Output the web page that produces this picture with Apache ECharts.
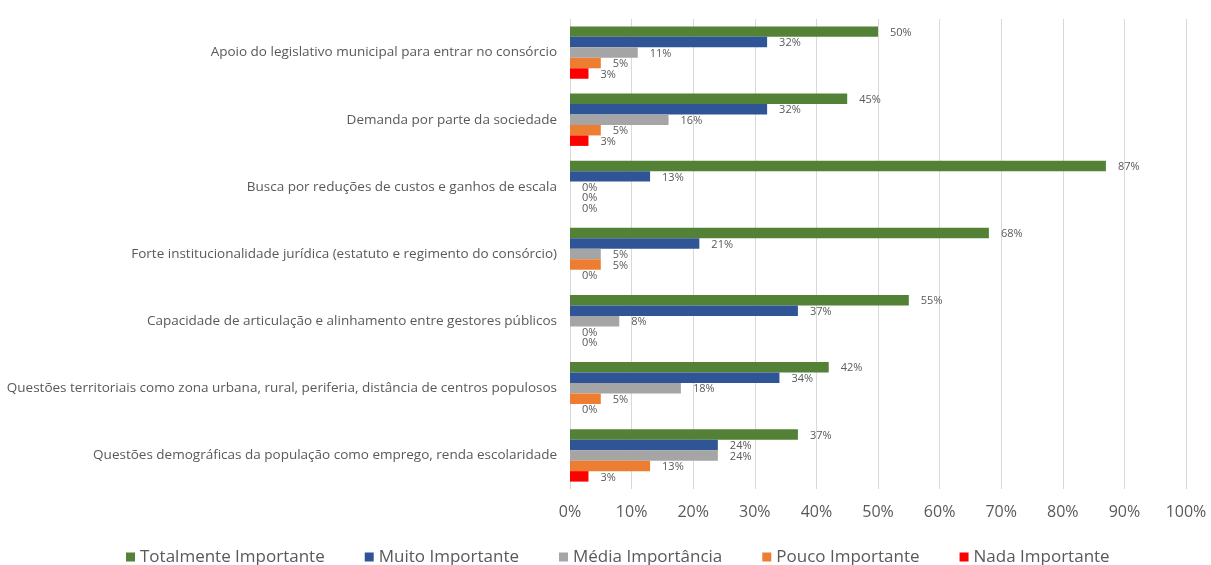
<!DOCTYPE html>
<html>
<head>
<meta charset="utf-8">
<script src="https://cdn.jsdelivr.net/npm/echarts@6/dist/echarts.min.js"></script>
<style>
  html, body { margin: 0; padding: 0; background: #ffffff; }
  #chart { width: 1211px; height: 565px; }
</style>
</head>
<body>
<div id="chart"></div>
<script>
// Factors considered when joining a public consortium, by importance rating (%)
const categories = [
  'Apoio do legislativo municipal para entrar no consórcio',
  'Demanda por parte da sociedade',
  'Busca por reduções de custos e ganhos de escala',
  'Forte institucionalidade jurídica (estatuto e regimento do consórcio)',
  'Capacidade de articulação e alinhamento entre gestores públicos',
  'Questões territoriais como zona urbana, rural, periferia, distância de centros populosos',
  'Questões demográficas da população como emprego, renda escolaridade'
];
const seriesNames = ['Totalmente Importante', 'Muito Importante', 'Média Importância', 'Pouco Importante', 'Nada Importante'];
const totalmente = [50, 45, 87, 68, 55, 42, 37];
const muito      = [32, 32, 13, 21, 37, 34, 24];
const media      = [11, 16, 0, 5, 8, 18, 24];
const pouco      = [5, 5, 0, 5, 0, 5, 13];
const nada       = [3, 3, 0, 0, 0, 0, 3];
const xTicks = [0, 10, 20, 30, 40, 50, 60, 70, 80, 90, 100];

const colors = ['#538135', '#2F5597', '#A5A5A5', '#ED7D31', '#FF0000'];
const values = [totalmente, muito, media, pouco, nada];

const chart = echarts.init(document.getElementById('chart'), null, { renderer: 'canvas' });

const series = values.map((data, i) => ({
  name: seriesNames[i],
  type: 'bar',
  data: data,
  barGap: '0%',
  barCategoryGap: '22%',
  itemStyle: { color: colors[i] },
  label: {
    show: true,
    position: 'right',
    distance: 12,
    offset: [0, 1],
    formatter: p => p.value + '%',
    color: '#595959',
    fontFamily: 'Open Sans',
    fontSize: 11
  }
}));

chart.setOption({
  animation: false,
  backgroundColor: '#ffffff',
  grid: { left: 570, right: 25, top: 19, bottom: 76, containLabel: false, outerBoundsMode: 'none' },
  legend: {
    data: seriesNames,
    top: 547,
    left: 126,
    padding: 0,
    itemWidth: 9,
    itemHeight: 9,
    itemGap: 40,
    icon: 'rect',
    textStyle: { color: '#595959', fontFamily: 'Open Sans', fontSize: 17, lineHeight: 20 }
  },
  xAxis: {
    type: 'value',
    min: xTicks[0],
    max: xTicks[xTicks.length - 1],
    interval: 10,
    axisLine: { show: false },
    axisTick: { show: false },
    splitLine: { show: true, lineStyle: { color: '#D9D9D9', width: 1 } },
    axisLabel: {
      formatter: v => v + '%',
      color: '#595959',
      fontFamily: 'Open Sans',
      fontSize: 16,
      margin: 15
    }
  },
  yAxis: {
    type: 'category',
    data: categories,
    inverse: true,
    axisLine: { show: false },
    axisTick: { show: false },
    axisLabel: {
      color: '#595959',
      fontFamily: 'Open Sans',
      fontSize: 13.5,
      margin: 13
    }
  },
  series: series
});
</script>
</body>
</html>
